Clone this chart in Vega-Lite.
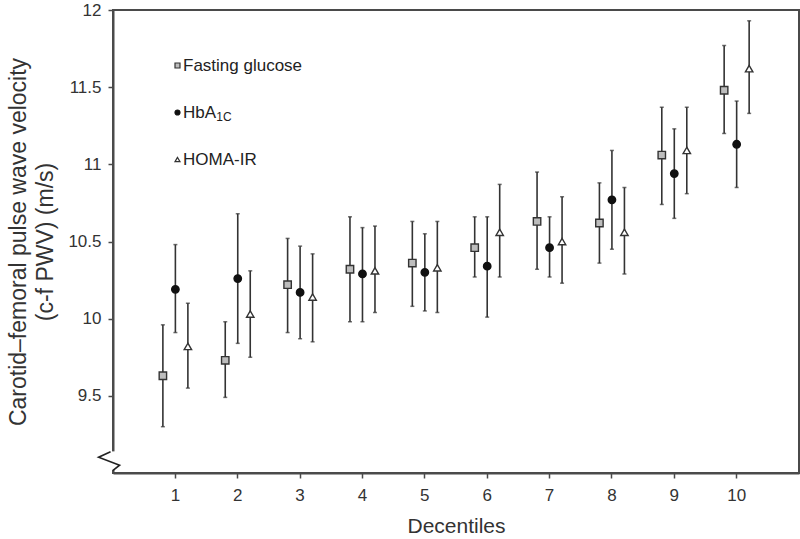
{
  "$schema": "https://vega.github.io/schema/vega-lite/v6.json",
  "width": 686,
  "height": 463,
  "autosize": {"type": "none"},
  "padding": {"left": 113, "top": 10, "right": 1, "bottom": 66},
  "background": "white",
  "config": {
    "view": {"stroke": "#4a4a4a", "strokeWidth": 2},
    "font": "Liberation Sans",
    "axis": {
      "domainColor": "#4a4a4a", "domainWidth": 2, "tickColor": "#4a4a4a", "tickWidth": 1.5,
      "tickSize": 5, "grid": false, "labelFont": "Liberation Sans", "labelFontSize": 17,
      "labelColor": "#333", "titleFont": "Liberation Sans", "titleFontWeight": "normal", "titleColor": "#333"
    }
  },
  "resolve": {"scale": {"x": "independent"}, "axis": {"x": "independent"}},
  "layer": [
    {
      "data": {
        "values": [
          {"decile": 1, "measure": "Fasting glucose", "mean": 9.63, "lower": 9.30, "upper": 9.96},
          {"decile": 2, "measure": "Fasting glucose", "mean": 9.73, "lower": 9.49, "upper": 9.98},
          {"decile": 3, "measure": "Fasting glucose", "mean": 10.22, "lower": 9.91, "upper": 10.52},
          {"decile": 4, "measure": "Fasting glucose", "mean": 10.32, "lower": 9.98, "upper": 10.66},
          {"decile": 5, "measure": "Fasting glucose", "mean": 10.36, "lower": 10.08, "upper": 10.63},
          {"decile": 6, "measure": "Fasting glucose", "mean": 10.46, "lower": 10.27, "upper": 10.66},
          {"decile": 7, "measure": "Fasting glucose", "mean": 10.63, "lower": 10.32, "upper": 10.95},
          {"decile": 8, "measure": "Fasting glucose", "mean": 10.62, "lower": 10.36, "upper": 10.88},
          {"decile": 9, "measure": "Fasting glucose", "mean": 11.06, "lower": 10.74, "upper": 11.37},
          {"decile": 10, "measure": "Fasting glucose", "mean": 11.48, "lower": 11.20, "upper": 11.77},
          {"decile": 1, "measure": "HbA1C", "mean": 10.19, "lower": 9.91, "upper": 10.48},
          {"decile": 2, "measure": "HbA1C", "mean": 10.26, "lower": 9.84, "upper": 10.68},
          {"decile": 3, "measure": "HbA1C", "mean": 10.17, "lower": 9.87, "upper": 10.47},
          {"decile": 4, "measure": "HbA1C", "mean": 10.29, "lower": 9.98, "upper": 10.59},
          {"decile": 5, "measure": "HbA1C", "mean": 10.30, "lower": 10.05, "upper": 10.55},
          {"decile": 6, "measure": "HbA1C", "mean": 10.34, "lower": 10.01, "upper": 10.66},
          {"decile": 7, "measure": "HbA1C", "mean": 10.46, "lower": 10.27, "upper": 10.66},
          {"decile": 8, "measure": "HbA1C", "mean": 10.77, "lower": 10.45, "upper": 11.09},
          {"decile": 9, "measure": "HbA1C", "mean": 10.94, "lower": 10.65, "upper": 11.23},
          {"decile": 10, "measure": "HbA1C", "mean": 11.13, "lower": 10.85, "upper": 11.41},
          {"decile": 1, "measure": "HOMA-IR", "mean": 9.82, "lower": 9.55, "upper": 10.10},
          {"decile": 2, "measure": "HOMA-IR", "mean": 10.03, "lower": 9.75, "upper": 10.31},
          {"decile": 3, "measure": "HOMA-IR", "mean": 10.14, "lower": 9.85, "upper": 10.42},
          {"decile": 4, "measure": "HOMA-IR", "mean": 10.31, "lower": 10.04, "upper": 10.60},
          {"decile": 5, "measure": "HOMA-IR", "mean": 10.33, "lower": 10.04, "upper": 10.63},
          {"decile": 6, "measure": "HOMA-IR", "mean": 10.56, "lower": 10.27, "upper": 10.87},
          {"decile": 7, "measure": "HOMA-IR", "mean": 10.50, "lower": 10.23, "upper": 10.79},
          {"decile": 8, "measure": "HOMA-IR", "mean": 10.56, "lower": 10.29, "upper": 10.85},
          {"decile": 9, "measure": "HOMA-IR", "mean": 11.09, "lower": 10.81, "upper": 11.37},
          {"decile": 10, "measure": "HOMA-IR", "mean": 11.62, "lower": 11.33, "upper": 11.93}
        ]
      },
      "encoding": {
        "x": {
          "field": "decile", "type": "ordinal",
          "scale": {"type": "band", "paddingInner": 0, "paddingOuter": 0.5},
          "axis": {"title": "Decentiles", "titleFontSize": 21, "labelPadding": 9, "titlePadding": 12, "labelAngle": 0, "bandPosition": 0.5}
        },
        "xOffset": {
          "field": "measure", "type": "nominal",
          "scale": {"type": "point", "domain": ["Fasting glucose", "HbA1C", "HOMA-IR"], "range": [18.7, 43.7], "padding": 0}
        }
      },
      "layer": [
        {
          "mark": {"type": "rule", "color": "#333", "strokeWidth": 1.6},
          "encoding": {
            "y": {"field": "lower", "type": "quantitative",
              "scale": {"domain": [9, 12], "nice": false, "zero": false},
              "axis": {"values": [9.5, 10, 10.5, 11, 11.5, 12], "format": ".1~f", "title": ["Carotid–femoral pulse wave velocity", "(c-f PWV) (m/s)"], "titleFontSize": 23, "titleLineHeight": 27, "labelPadding": 7, "titlePadding": 10}},
            "y2": {"field": "upper"}
          }
        },
        {
          "mark": {"type": "tick", "color": "#333", "size": 4, "thickness": 1.5, "orient": "horizontal"},
          "encoding": {"y": {"field": "lower", "type": "quantitative"}}
        },
        {
          "mark": {"type": "tick", "color": "#333", "size": 4, "thickness": 1.5, "orient": "horizontal"},
          "encoding": {"y": {"field": "upper", "type": "quantitative"}}
        },
        {
          "mark": {"type": "point", "filled": false, "strokeWidth": 1.4, "opacity": 1, "size": 55},
          "encoding": {
            "y": {"field": "mean", "type": "quantitative"},
            "shape": {"field": "measure", "type": "nominal",
              "scale": {"domain": ["Fasting glucose", "HbA1C", "HOMA-IR"], "range": ["square", "circle", "triangle-up"]},
              "legend": {"orient": "none", "legendX": 56, "legendY": 47, "title": null, "padding": 0,
                "labelFont": "Liberation Sans", "labelFontSize": 17, "labelColor": "#222", "labelOffset": -3,
                "rowPadding": 29, "symbolSize": 25, "symbolStrokeWidth": 1.2,
                "labelExpr": "datum.label == 'HbA1C' ? 'HbA' : datum.label"}},
            "fill": {"field": "measure", "type": "nominal",
              "scale": {"domain": ["Fasting glucose", "HbA1C", "HOMA-IR"], "range": ["#bdbdbd", "#111111", "#ffffff"]}},
            "stroke": {"field": "measure", "type": "nominal",
              "scale": {"domain": ["Fasting glucose", "HbA1C", "HOMA-IR"], "range": ["#333333", "#111111", "#333333"]}}
          }
        }
      ]
    },
    {
      "data": {"values": [{}]},
      "encoding": {
        "x": {"datum": 0, "type": "quantitative", "scale": {"domain": [0, 11], "nice": false, "zero": false}, "axis": null}
      },
      "layer": [
        {
          "mark": {"type": "rule", "color": "white", "strokeWidth": 4},
          "encoding": {"y": {"datum": 9.02}, "y2": {"datum": 9.14}}
        },
        {
          "mark": {"type": "point", "shape": "M -0.17 -0.64 L -1 -0.26 L 0.46 0.29 L 0 0.66", "size": 830, "filled": false, "stroke": "#222", "strokeWidth": 1.6, "fill": null, "opacity": 1},
          "encoding": {"y": {"datum": 9.078}}
        },
        {
          "mark": {"type": "text", "text": "1C", "font": "Liberation Sans", "fontSize": 12, "align": "left", "baseline": "alphabetic", "color": "#222"},
          "encoding": {"x": {"datum": 1.657, "type": "quantitative"}, "y": {"datum": 11.283}}
        }
      ]
    }
  ]
}
